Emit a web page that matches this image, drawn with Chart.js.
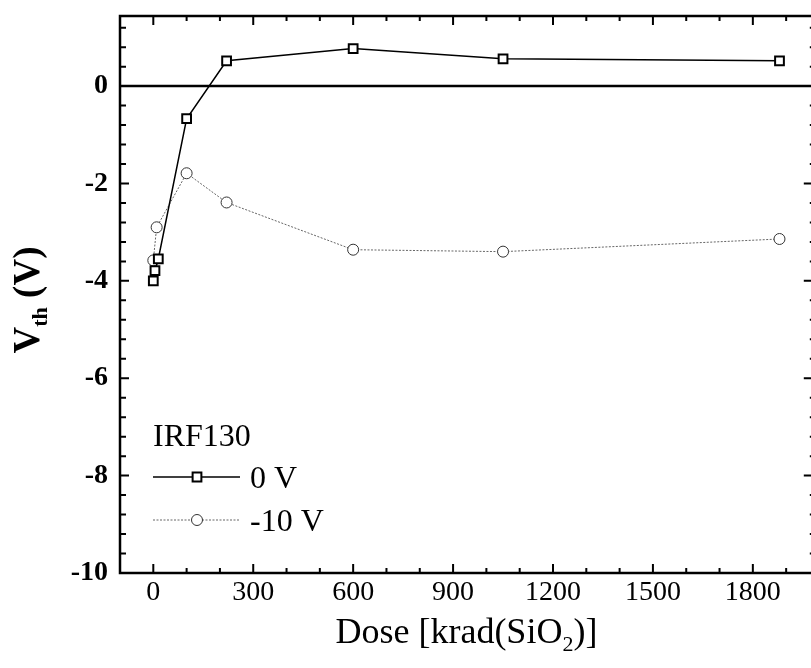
<!DOCTYPE html>
<html>
<head>
<meta charset="utf-8">
<script src="https://cdn.jsdelivr.net/npm/chart.js@4/dist/chart.umd.min.js"></script>
<style>
  html, body { margin: 0; padding: 0; background: #fff; overflow: hidden; }
  #wrap { width: 821px; height: 668px; }
</style>
</head>
<body>
<div id="wrap"><canvas id="vthChart" width="821" height="668"></canvas></div>
<script>
// Threshold voltage vs total dose, IRF130, two gate biases
// (the plot frame runs a little past the right edge of the page, as in the scan)
const legendTitle = 'IRF130';
const seriesNames = ['0 V', '-10 V'];

const dose0V = [0, 5, 15, 100, 220, 600, 1050, 1880];
const vth0V = [-4.0, -3.79, -3.55, -0.67, 0.52, 0.77, 0.56, 0.52];

const doseM10V = [0, 10, 100, 220, 600, 1050, 1880];
const vthM10V = [-3.58, -2.90, -1.79, -2.39, -3.36, -3.40, -3.14];

const xTickValues = [0, 300, 600, 900, 1200, 1500, 1800];
const yTickValues = [-10, -8, -6, -4, -2, 0];

const serif = "'Liberation Serif', 'Times New Roman', serif";

function toPoints(xs, ys) {
    return xs.map((x, i) => ({ x: x, y: ys[i] }));
}

// frame with inward ticks, zero line, legend and axis titles
const framePlugin = {
    id: 'frame',
    afterDatasetsDraw(chart) {
        const ctx = chart.ctx;
        const a = chart.chartArea;
        const xs = chart.scales.x, ys = chart.scales.y;
        ctx.save();
        ctx.strokeStyle = '#000';

        // zero line
        const y0 = ys.getPixelForValue(0);
        ctx.lineWidth = 2.5;
        ctx.beginPath();
        ctx.moveTo(a.left, y0);
        ctx.lineTo(a.right, y0);
        ctx.stroke();

        // ticks
        ctx.lineWidth = 2;
        ctx.beginPath();
        for (let v = -100; v <= xs.max; v += 100) {
            const px = xs.getPixelForValue(v);
            const len = (v % 300 === 0) ? 9 : 5;
            ctx.moveTo(px, a.bottom); ctx.lineTo(px, a.bottom - len);
            ctx.moveTo(px, a.top); ctx.lineTo(px, a.top + len);
        }
        for (let i = 0; i * 0.4 <= ys.max + 10 + 1e-6; i++) {
            const v = -10 + i * 0.4;
            const py = ys.getPixelForValue(v);
            const major = (i % 5 === 0);
            ctx.moveTo(a.left, py); ctx.lineTo(a.left + (major ? 9 : 6), py);
            ctx.moveTo(a.right, py); ctx.lineTo(a.right - (major ? 9 : 3), py);
        }
        ctx.stroke();

        // frame
        ctx.lineWidth = 2.5;
        ctx.strokeRect(a.left, a.top, a.right - a.left, a.bottom - a.top);

        // legend
        ctx.fillStyle = '#000';
        ctx.font = '32px ' + serif;
        ctx.textAlign = 'left';
        ctx.textBaseline = 'alphabetic';
        ctx.fillText(legendTitle, 153, 446);

        const rows = [477, 520];
        chart.data.datasets.forEach((ds, i) => {
            const y = rows[i];
            ctx.save();
            ctx.strokeStyle = ds.borderColor;
            ctx.lineWidth = ds.borderWidth;
            ctx.setLineDash(ds.borderDash || []);
            ctx.beginPath();
            ctx.moveTo(153, y);
            ctx.lineTo(240, y);
            ctx.stroke();
            ctx.setLineDash([]);
            ctx.fillStyle = ds.pointBackgroundColor;
            ctx.strokeStyle = ds.pointBorderColor;
            ctx.lineWidth = ds.pointBorderWidth;
            Chart.helpers.drawPoint(ctx, {
                pointStyle: ds.pointStyle,
                radius: ds.pointRadius,
                borderWidth: ds.pointBorderWidth
            }, 197, y);
            ctx.restore();
            ctx.fillStyle = '#000';
            ctx.fillText(ds.label, 250, y + 11);
        });

        // x title with subscript
        const big = '36px ' + serif, small = '22px ' + serif;
        const parts = [['Dose [krad(SiO', big, 0], ['2', small, 8], [')]', big, 0]];
        let total = 0;
        parts.forEach(p => { ctx.font = p[1]; total += ctx.measureText(p[0]).width; });
        let x = (a.left + a.right) / 2 - total / 2;
        parts.forEach(p => {
            ctx.font = p[1];
            ctx.fillText(p[0], x, 643 + p[2]);
            x += ctx.measureText(p[0]).width;
        });

        // y title with subscript, rotated
        const bigB = 'bold 37px ' + serif, smallB = 'bold 22px ' + serif;
        const yparts = [['V', bigB, 0], ['th', smallB, 8], [' (V)', bigB, 0]];
        ctx.save();
        ctx.translate(39, 300);
        ctx.rotate(-Math.PI / 2);
        total = 0;
        yparts.forEach(p => { ctx.font = p[1]; total += ctx.measureText(p[0]).width; });
        x = -total / 2;
        yparts.forEach(p => {
            ctx.font = p[1];
            ctx.fillText(p[0], x, p[2]);
            x += ctx.measureText(p[0]).width;
        });
        ctx.restore();

        ctx.restore();
    }
};

const ctx = document.getElementById('vthChart').getContext('2d');
new Chart(ctx, {
    type: 'scatter',
    data: {
        datasets: [{
            label: seriesNames[0],
            data: toPoints(dose0V, vth0V),
            showLine: true,
            borderColor: '#000',
            borderWidth: 1.5,
            pointStyle: 'rect',
            pointRadius: 6.2,
            pointBorderWidth: 2,
            pointBorderColor: '#000',
            pointBackgroundColor: '#fff'
        }, {
            label: seriesNames[1],
            data: toPoints(doseM10V, vthM10V),
            showLine: true,
            borderColor: '#666',
            borderWidth: 1,
            borderDash: [2, 1.5],
            pointStyle: 'circle',
            pointRadius: 5.5,
            pointBorderWidth: 1,
            pointBorderColor: '#333',
            pointBackgroundColor: '#fff'
        }]
    },
    options: {
        responsive: false,
        animation: false,
        layout: { padding: { top: 16, right: 1, left: 0, bottom: 0 } },
        plugins: { legend: { display: false }, tooltip: { enabled: false } },
        scales: {
            x: {
                type: 'linear',
                min: -100,
                max: 1980,
                afterFit(scale) {
                    scale.height = 95;
                    scale.paddingLeft = 0;
                    scale.paddingRight = 0;
                },
                afterBuildTicks(scale) { scale.ticks = xTickValues.map(v => ({ value: v })); },
                grid: { display: false, drawTicks: false },
                border: { display: false },
                ticks: {
                    color: '#000',
                    padding: 6,
                    maxRotation: 0,
                    callback: v => String(v),
                    font: { family: serif, size: 28, lineHeight: 1 }
                }
            },
            y: {
                type: 'linear',
                min: -10,
                max: 1.44,
                afterFit(scale) {
                    scale.width = 120;
                    scale.paddingTop = 0;
                    scale.paddingBottom = 0;
                },
                afterBuildTicks(scale) { scale.ticks = yTickValues.map(v => ({ value: v })); },
                grid: { display: false, drawTicks: false },
                border: { display: false },
                ticks: {
                    color: '#000',
                    padding: 12,
                    callback: v => String(v),
                    font: { family: serif, size: 28, weight: 'bold', lineHeight: 1 }
                }
            }
        }
    },
    plugins: [framePlugin]
});
</script>
</body>
</html>
